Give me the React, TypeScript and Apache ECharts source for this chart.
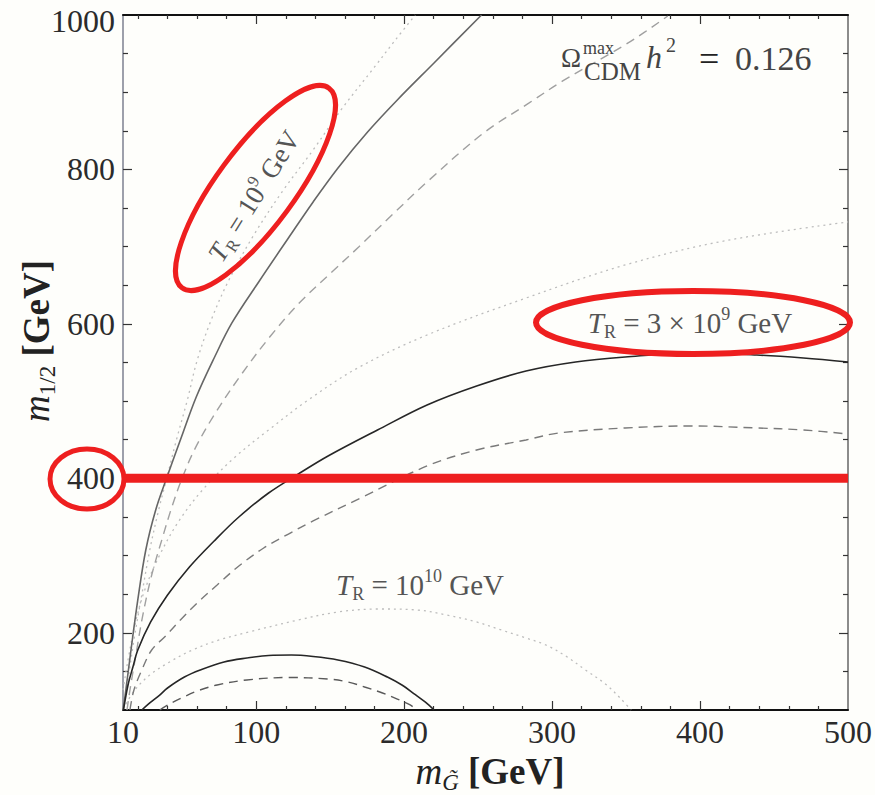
import React, { useEffect, useRef } from "react";
import * as echarts from "echarts";

// ---- axis ticks / labels ----
const X_LABELS = [10, 100, 200, 300, 400, 500];
const X_MAJOR_TICKS = [100, 200, 300, 400];
const X_MINOR_TICKS = [20, 40, 60, 80, 120, 140, 160, 180, 220, 240, 260, 280, 320, 340, 360, 380, 420, 440, 460, 480];
const Y_LABELS = [200, 400, 600, 800, 1000];
const Y_MAJOR_TICKS = [200, 400, 600, 800];
const Y_MINOR_TICKS = [150, 250, 300, 350, 450, 500, 550, 650, 700, 750, 850, 900, 950];

// ---- curves: T_R = 1e9 GeV ----
const SOLID_1E9 = [[10, 100], [11.3, 116.8], [15.4, 177.7], [20, 242.5], [25.4, 307.2], [32.1, 359], [39.5, 400.4], [49.5, 453.5], [59.5, 505.3], [71.6, 555.8], [83.6, 601.2], [101.7, 654.3], [121.8, 711.2], [138.5, 757.9], [155.3, 801.9], [175.3, 848.5], [195.4, 890], [220.2, 937.9], [252.3, 1000]];
const DASHED_1E9 = [[12.7, 100], [14.7, 125.9], [18.7, 171.2], [23.4, 223], [29.4, 274.8], [36.8, 324], [42.8, 361.6], [49.5, 397.9], [58.2, 436.7], [71.6, 482], [89.7, 533.8], [109.7, 584.3], [129.8, 628.4], [151.9, 668.5], [169.3, 699.6], [190.7, 739], [215.5, 783.8], [253.7, 847.2], [284.5, 886.1], [307.2, 914.6], [351.4, 963.8], [378.2, 998.7]];
const DOTTED_1E9 = [[10.2, 100], [13.4, 138.9], [17.4, 190.7], [22.1, 242.5], [28.1, 307.2], [34.1, 359], [40.1, 404.3], [46.1, 449.7], [53.5, 501.5], [60.2, 553.3], [69.6, 605], [81.6, 656.9], [98.4, 715.1], [118.4, 773.4], [138.5, 825.2], [157.3, 877], [180, 932.7], [194.1, 967.7], [207.5, 1000]];

// ---- curves: T_R = 3e9 GeV ----
const SOLID_3E9 = [[10.3, 100], [13.4, 132.4], [16.7, 155.7], [20, 177.7], [28.7, 214], [40.1, 248.9], [54.9, 285.2], [71.6, 318.9], [88.3, 349.9], [108.4, 381], [128.5, 405.6], [148.6, 428.9], [182, 462.6], [215.5, 495], [249, 519.6], [282.4, 539], [315.9, 550.7], [349.4, 557.1], [394.2, 562.3], [438.4, 559.7], [469.9, 555.8], [500, 550.7]];
const DASHED_3E9 = [[14.7, 100], [17.4, 125.9], [22.7, 151.8], [29.4, 177.7], [38.8, 195.8], [48.8, 216.6], [60.2, 238.6], [73.6, 261.9], [88.3, 286.5], [105.1, 309.8], [121.8, 327.9], [138.5, 344.8], [172, 375.8], [215.5, 416], [249, 436.7], [282.4, 449.7], [304.5, 458.7], [349.4, 465.2], [394.2, 467.8], [438.4, 465.2], [469.9, 462.6], [500, 457.4]];
const DOTTED_3E9 = [[10, 125.9], [13.4, 164.8], [18, 210.1], [24.7, 255.4], [34.8, 300.7], [48.2, 346], [64.9, 387.5], [85, 426.3], [108.4, 462.6], [135.2, 501.5], [168.6, 542.9], [215.5, 585.6], [282.4, 633.5], [349.4, 676.3], [416.3, 707.4], [500, 732]];

// ---- curves: T_R = 1e10 GeV ----
const SOLID_1E10 = [[22.7, 100], [28.1, 109.1], [34.8, 119.4], [40.1, 128.5], [51.5, 142.7], [62.2, 151.8], [78.3, 162.2], [93.7, 167.3], [108.4, 170.6], [123.8, 171.2], [138.5, 169.3], [155.3, 164.8], [173.3, 155.7], [188.7, 142.7], [198.8, 132], [206.8, 121], [214.2, 110.4], [220.2, 100]];
const DASHED_1E10 = [[34.8, 100], [41.5, 107.8], [49.5, 115.5], [60.2, 124.6], [73.6, 132.4], [93.7, 138.9], [121.8, 142.1], [148.6, 140.1], [162, 136.3], [173.3, 129.8], [185.4, 122], [195.4, 114.2], [204.1, 106.5], [208.8, 100]];
const DOTTED_1E10 = [[10, 101], [18, 125.9], [28.1, 145.3], [41.5, 162.2], [56.9, 177.7], [74.9, 190.7], [95, 201], [128.5, 216.6], [155.3, 226.9], [182, 230.8], [208.8, 229.5], [228.9, 223], [249, 214], [265.7, 203.6], [282.4, 193.2], [295.8, 184.2], [309.2, 169.9], [322.6, 151.8], [336, 133.7], [346, 115.5], [353.4, 100]];

// ---- highlighted m_1/2 = 400 GeV line ----
const RED_LINE_400 = [[10, 400], [500, 400]];

const SERIF = '"Liberation Serif", "Times New Roman", serif';
const RED = "#ee1f1f";

function rich(size: number, color: string) {
  const lh = Math.round(size * 1.25);
  const small = Math.round(size * 0.62);
  return {
    n: { fontSize: size, fontFamily: SERIF, fill: color, lineHeight: lh },
    i: { fontSize: size, fontFamily: SERIF, fontStyle: "italic", fill: color, lineHeight: lh },
    b: { fontSize: size, fontFamily: SERIF, fontWeight: "bold", fill: color, lineHeight: lh },
    s: { fontSize: small, fontFamily: SERIF, fill: color, lineHeight: small, verticalAlign: "bottom" },
    si: { fontSize: small, fontFamily: SERIF, fontStyle: "italic", fill: color, lineHeight: small, verticalAlign: "bottom" },
    p: { fontSize: small, fontFamily: SERIF, fill: color, lineHeight: small, verticalAlign: "top" },
  };
}

function line(name: string, data: number[][], color: string, width: number, type: any, z = 3) {
  return {
    type: "line",
    name,
    data,
    xAxisIndex: 0,
    yAxisIndex: 0,
    symbol: "none",
    showSymbol: false,
    smooth: 0.35,
    silent: true,
    z,
    lineStyle: { color, width, type, cap: "butt" },
  };
}

export default function App() {
  const ref = useRef<HTMLDivElement>(null);

  useEffect(() => {
    const chart = echarts.init(ref.current!, null, { renderer: "svg" });
    const base = { type: "value", min: 10, max: 500, splitLine: { show: false } };
    const ybase = { type: "value", min: 100, max: 1000, splitLine: { show: false } };
    const tickStyle = { color: "#333", width: 1.2 };

    const option: any = {
      animation: false,
      backgroundColor: "#fefefb",
      grid: { left: 123, top: 15, width: 731, height: 695, show: false },
      xAxis: [
        {
          ...base,
          position: "bottom",
          axisLine: { show: true, onZero: false, lineStyle: { color: "#111", width: 2 } },
          axisTick: { show: true, inside: true, length: 9, customValues: X_MAJOR_TICKS, lineStyle: tickStyle },
          axisLabel: {
            show: true, customValues: X_LABELS, fontFamily: SERIF, fontSize: 32, color: "#2b2b2b", margin: 6,
            formatter: (v: number) => String(v),
          },
        },
        {
          ...base,
          position: "bottom",
          axisLine: { show: false },
          axisTick: { show: true, inside: true, length: 4, customValues: X_MINOR_TICKS, lineStyle: tickStyle },
          axisLabel: { show: false },
        },
        {
          ...base,
          position: "top",
          axisLine: { show: true, onZero: false, lineStyle: { color: "#111", width: 2 } },
          axisTick: { show: true, inside: true, length: 9, customValues: X_MAJOR_TICKS, lineStyle: tickStyle },
          axisLabel: { show: false },
        },
        {
          ...base,
          position: "top",
          axisLine: { show: false },
          axisTick: { show: true, inside: true, length: 4, customValues: X_MINOR_TICKS, lineStyle: tickStyle },
          axisLabel: { show: false },
        },
      ],
      yAxis: [
        {
          ...ybase,
          position: "left",
          axisLine: { show: true, onZero: false, lineStyle: { color: "#7c8090", width: 1.5 } },
          axisTick: { show: true, inside: true, length: 9, customValues: Y_MAJOR_TICKS, lineStyle: tickStyle },
          axisLabel: {
            show: true, customValues: Y_LABELS, fontFamily: SERIF, fontSize: 32, color: "#2b2b2b", margin: 8,
            formatter: (v: number) => (v === 1000 ? "{t|1000}" : String(v)),
            rich: { t: { fontFamily: SERIF, fontSize: 32, color: "#2b2b2b", padding: [12, 0, 0, 0] } },
          },
        },
        {
          ...ybase,
          position: "left",
          axisLine: { show: false },
          axisTick: { show: true, inside: true, length: 5, customValues: Y_MINOR_TICKS, lineStyle: tickStyle },
          axisLabel: { show: false },
        },
        {
          ...ybase,
          position: "right",
          axisLine: { show: true, onZero: false, lineStyle: { color: "#666", width: 1.5 } },
          axisTick: { show: true, inside: true, length: 9, customValues: Y_MAJOR_TICKS, lineStyle: tickStyle },
          axisLabel: { show: false },
        },
        {
          ...ybase,
          position: "right",
          axisLine: { show: false },
          axisTick: { show: true, inside: true, length: 5, customValues: Y_MINOR_TICKS, lineStyle: tickStyle },
          axisLabel: { show: false },
        },
      ],
      series: [
        line("dotted 1e9", DOTTED_1E9, "#bdbdbd", 1.3, [2, 4]),
        line("dotted 3e9", DOTTED_3E9, "#bdbdbd", 1.3, [2, 4]),
        line("dotted 1e10", DOTTED_1E10, "#bdbdbd", 1.3, [2, 4]),
        line("dashed 1e9", DASHED_1E9, "#a0a0a0", 1.4, [9, 6]),
        line("dashed 3e9", DASHED_3E9, "#7a7a7a", 1.4, [9, 6]),
        line("dashed 1e10", DASHED_1E10, "#5a5a5a", 1.4, [9, 6]),
        line("solid 1e9", SOLID_1E9, "#666", 1.6, "solid"),
        line("solid 3e9", SOLID_3E9, "#262626", 1.6, "solid"),
        line("solid 1e10", SOLID_1E10, "#262626", 1.6, "solid"),
        {
          type: "line",
          name: "m12 = 400",
          data: RED_LINE_400,
          symbol: "none",
          silent: true,
          z: 5,
          lineStyle: { color: RED, width: 9, cap: "butt" },
        },
      ],
      graphic: [
        // red annotation ellipses
        { type: "ellipse", x: 87, y: 479, z: 50, shape: { cx: 0, cy: 0, rx: 37, ry: 30 }, style: { fill: "transparent", stroke: RED, lineWidth: 5 } },
        { type: "ellipse", x: 255.5, y: 188, rotation: (53.6 * Math.PI) / 180, z: 50, shape: { cx: 0, cy: 0, rx: 124, ry: 39 }, style: { fill: "transparent", stroke: RED, lineWidth: 5 } },
        { type: "ellipse", x: 693, y: 322.5, z: 50, shape: { cx: 0, cy: 0, rx: 157, ry: 31.5 }, style: { fill: "transparent", stroke: RED, lineWidth: 6 } },
        // curve labels
        {
          type: "text", x: 254, y: 196, rotation: (58 * Math.PI) / 180, z: 60,
          style: { text: "{i|T}{s|R}{n| = 10}{p|9}{n| GeV}", rich: rich(27, "#555"), align: "center", verticalAlign: "middle" },
        },
        {
          type: "text", x: 690, y: 323, z: 60,
          style: { text: "{i|T}{s|R}{n| = 3 × 10}{p|9}{n| GeV}", rich: rich(29, "#555"), align: "center", verticalAlign: "middle" },
        },
        {
          type: "text", x: 420, y: 585, z: 60,
          style: { text: "{i|T}{s|R}{n| = 10}{p|10}{n| GeV}", rich: rich(29, "#555"), align: "center", verticalAlign: "middle" },
        },
        // Omega title
        { type: "text", x: 561, y: 58, z: 60, style: { text: "Ω", fontSize: 27, fontFamily: SERIF, fill: "#444", align: "left", verticalAlign: "middle" } },
        { type: "text", x: 583, y: 48, z: 60, style: { text: "max", fontSize: 18, fontFamily: SERIF, fill: "#444", align: "left", verticalAlign: "middle" } },
        { type: "text", x: 584, y: 71, z: 60, style: { text: "CDM", fontSize: 25, fontFamily: SERIF, fill: "#444", align: "left", verticalAlign: "middle" } },
        { type: "text", x: 646, y: 57, z: 60, style: { text: "h", fontSize: 32, fontStyle: "italic", fontFamily: SERIF, fill: "#444", align: "left", verticalAlign: "middle" } },
        { type: "text", x: 666, y: 45, z: 60, style: { text: "2", fontSize: 20, fontFamily: SERIF, fill: "#444", align: "left", verticalAlign: "middle" } },
        { type: "text", x: 699, y: 59, z: 60, style: { text: "=", fontSize: 36, fontFamily: SERIF, fill: "#222", align: "left", verticalAlign: "middle" } },
        { type: "text", x: 735, y: 58, z: 60, style: { text: "0.126", fontSize: 34, fontFamily: SERIF, fill: "#444", align: "left", verticalAlign: "middle" } },
        // axis titles
        {
          type: "text", x: 36, y: 341, rotation: Math.PI / 2, z: 60,
          style: { text: "{i|m}{s|1/2}{n| }{b|[GeV]}", rich: rich(37, "#222"), align: "center", verticalAlign: "middle" },
        },
        {
          type: "text", x: 490, y: 771, z: 60,
          style: { text: "{i|m}{si|G̃}{n| }{b|[GeV]}", rich: rich(37, "#222"), align: "center", verticalAlign: "middle" },
        },
      ],
    };

    chart.setOption(option);
    return () => chart.dispose();
  }, []);

  return (
    <div
      ref={ref}
      style={{ position: "fixed", left: 0, top: 0, width: 875, height: 795, background: "#fefefb" }}
    />
  );
}
